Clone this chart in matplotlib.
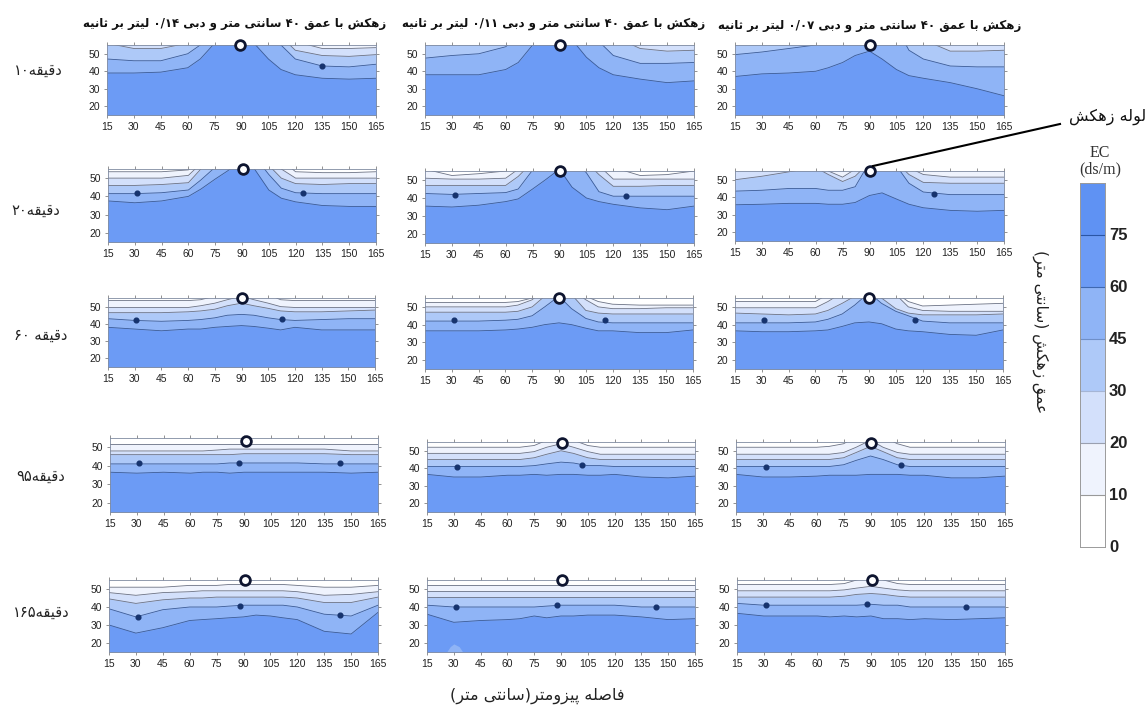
import re
import matplotlib
matplotlib.use("Agg")
import matplotlib.pyplot as plt
from matplotlib.lines import Line2D

W, H = 1148, 707

# distance along the section, shared by all contour lines
X = [15, 30, 45, 60, 67, 75, 82, 90, 97, 105, 112, 120, 135, 150, 165]
XTICKS = [15, 30, 45, 60, 75, 90, 105, 120, 135, 150, 165]
YTICKS = [20, 30, 40, 50]

# contour depths, lowest contour first. values over 55 run off the top of the panel
q14_t10 = [
    [39, 39, 39.5, 42, 47, 56, 62, 68, 56, 47, 41, 38, 36, 35.5, 36],
    [47, 46, 46, 50, 55, 62, 66, 68, 66, 62, 55, 47, 43, 42.5, 44],
    [56, 53, 53, 56, 60, 66, 68, 68, 68, 66, 60, 52, 49, 48.5, 49.5],
    [60, 60, 60, 60, 62, 68, 68, 68, 68, 68, 64, 57, 53, 53, 53.5],
]
q14_t30 = [
    [37.5, 36.5, 37.5, 40, 44, 49.5, 54, 60, 55, 43.5, 39, 37, 35, 34.5, 34.5],
    [41.5, 41.5, 42, 43.5, 49, 56, 62, 68, 62, 52, 44.5, 42, 41.5, 41.5, 41.5],
    [46, 46, 46.5, 47.5, 55, 62, 65, 65, 65, 57, 50, 47, 46.5, 47, 47],
    [50, 50, 50, 51.5, 58, 64, 66, 66, 66, 62, 55, 50, 50, 50, 50],
    [53.5, 53.5, 53.5, 54.5, 60, 66, 68, 68, 68, 66, 60, 53.5, 53, 53, 53.5],
]
q14_t60 = [
    [38, 37, 36, 37, 37, 38, 38.5, 39, 38.5, 37.5, 36.5, 38, 36.5, 36.5, 36.5],
    [43, 42, 41.5, 42, 42.5, 43.5, 45, 45.5, 45, 43.5, 42.5, 42, 42.5, 43, 43],
    [46.5, 46.5, 46.5, 47, 47.5, 48.5, 50.5, 52, 50.5, 49, 47.5, 47, 47, 47.5, 48],
    [49.5, 49.5, 49.5, 49.5, 50.5, 52, 54, 56, 54, 52, 50, 49.5, 49.5, 49.5, 49.5],
    [53.5, 53.5, 53.5, 53.5, 54, 56, 60, 62, 60, 57, 54, 53.5, 53.5, 53.5, 53.5],
]
q14_t95 = [
    [36.5, 36, 36.5, 36, 36.5, 36.5, 36, 36.5, 36.5, 36.5, 36.5, 36.5, 36.5, 36, 36.5],
    [41, 41, 41, 41, 41, 41, 41.5, 41.5, 41.5, 41.5, 41.5, 41.5, 41, 41, 41],
    [46, 46, 46, 46, 46, 46, 46, 46.5, 46.5, 46.5, 46.5, 46.5, 46.5, 46, 46],
    [48, 48, 48, 48, 48, 48.5, 49, 49, 49, 49, 49, 49, 49, 48, 48],
    [51.5, 51.5, 51.5, 51.5, 51.5, 51.5, 51.5, 51.5, 51.5, 51.5, 51.5, 51.5, 51.5, 51.5, 51.5],
]
q14_t165 = [
    [30, 25.5, 28.5, 32.5, 33, 33.5, 34, 34.5, 35.5, 35, 34, 33, 26.5, 25, 37],
    [39, 34.5, 38.5, 40, 40, 40, 40.5, 41, 41, 41, 41, 40, 36, 35, 41],
    [44.5, 42, 44, 45, 45, 45.5, 45.5, 45.5, 45.5, 45.5, 45.5, 45, 42.5, 42.5, 45.5],
    [48, 46.5, 48, 48.5, 49, 49, 49, 49, 49, 49, 49, 48.5, 46.5, 47, 48.5],
    [51, 51, 51, 52, 52, 52, 52.5, 52.5, 52.5, 52.5, 52.5, 52, 51, 51, 52],
]

q11_t10 = [
    [38, 38, 38, 41, 45, 55, 62, 68, 58, 48, 42, 38, 35.5, 33.5, 34.5],
    [47.5, 49, 50, 54, 60, 66, 68, 68, 68, 66, 57, 49, 44.5, 44.5, 45],
    [60, 60, 60, 60, 62, 68, 68, 68, 68, 68, 66, 60, 53, 51.5, 52],
]
q11_t30 = [
    [35.5, 35, 36, 38, 39.5, 45, 50, 56, 46, 40, 38, 36.5, 34.5, 33.5, 35.5],
    [42.5, 42, 42.5, 43, 45, 55.5, 62, 68, 62, 54, 43.5, 41, 41, 41, 41],
    [47, 47, 47, 47, 52, 60, 64, 66, 64, 60, 53, 46.5, 46.5, 47, 47],
    [51, 50.5, 50.5, 51, 56, 62, 66, 68, 66, 64, 58, 50.5, 50.5, 50.5, 50.5],
    [56, 52.5, 53.5, 55, 60, 66, 68, 68, 68, 66, 62, 57, 52.5, 53, 55],
]
q11_t60 = [
    [36.5, 36.5, 36.5, 37, 37.5, 38.5, 40, 41, 40, 38, 36.5, 36.5, 35.5, 35.5, 37],
    [42, 42, 42, 42.5, 43, 45, 50, 56, 49, 43.5, 41.5, 41, 41, 41, 41],
    [47, 47, 47, 47, 47.5, 50, 56, 62, 57, 48, 46.5, 46, 46, 46, 46],
    [50, 50, 50, 50, 51, 54, 60, 65, 60, 54, 50, 49, 49, 49.5, 49.5],
    [52.5, 52.5, 52.5, 52.5, 53, 55, 62, 66, 62, 56, 53, 51.5, 51, 51, 51],
]
q11_t95 = [
    [36.5, 35, 35, 36, 36, 36.5, 36, 36.5, 36.5, 36, 36, 36.5, 35, 34.5, 35.5],
    [41, 41, 41, 41, 41, 41.5, 42.5, 43.5, 43, 41.5, 41.5, 41, 41, 41, 41],
    [45, 45, 45, 45, 45, 46, 48, 50, 48.5, 46, 45, 45, 45, 45, 45],
    [48.5, 48.5, 48.5, 48.5, 48.5, 49.5, 52, 54, 52, 49.5, 48, 48, 48, 48, 48],
    [52, 52, 52, 52, 52, 53, 56, 58, 56, 53, 52, 52, 52, 52, 52],
]
q11_t165 = [
    [36, 31.5, 32.5, 33, 33.5, 35, 34, 35, 35, 35.5, 35.5, 35.5, 34.5, 33, 33.5],
    [41, 40, 40, 40, 40, 40, 40.5, 41, 41, 41, 41, 41, 40, 40, 40],
    [45.5, 45.5, 45.5, 45.5, 45.5, 45.5, 45.5, 45.5, 45.5, 45.5, 45.5, 45.5, 45.5, 45.5, 45.5],
    [49, 49, 49, 49, 49, 49, 49, 49, 49, 49, 49, 49, 49, 49, 49],
    [52, 52, 52, 52, 52, 52, 52, 52, 52, 52, 52, 52, 52, 52, 52],
]

q07_t10 = [
    [37, 38.5, 39, 40, 42, 45, 49, 51.5, 47, 41, 37.5, 36, 33.5, 30, 26],
    [49.5, 51, 53, 55, 60, 65, 65, 65, 65, 65, 52, 47, 43, 42.5, 42.5],
    [60, 60, 60, 60, 60, 66, 66, 66, 66, 66, 62, 58, 51.5, 51.5, 52],
]
q07_t30 = [
    [35.7, 36, 36.5, 36.5, 36, 36, 37, 41, 42.5, 39, 36, 34, 32.5, 32, 32.5],
    [43.5, 44, 45, 45, 44, 44, 46, 60, 62, 58, 48, 43, 41.5, 41.5, 41.5],
    [50, 52, 54.5, 57, 53, 49, 52, 60, 62, 60, 53, 48.5, 48, 48, 48],
    [60, 60, 60, 60, 55, 51.5, 56, 62, 62, 62, 57, 53, 51.5, 51.5, 51.5],
]
q07_t60 = [
    [36.5, 36, 36, 36.5, 37, 39, 41, 41.5, 40.5, 37.5, 36.5, 36, 34.5, 34, 37],
    [41, 41, 41, 41.5, 43, 46, 51, 58, 52, 47.5, 45, 42, 41, 41, 41],
    [46.5, 46, 45.5, 46, 48, 52, 56, 62, 55, 49, 46.5, 45.5, 45.5, 45.5, 46],
    [49.5, 49.5, 49.5, 49.5, 53, 58, 64, 66, 64, 57, 50, 48, 47.5, 47.5, 47.5],
    [53, 53, 53, 53, 57, 62, 68, 68, 66, 58, 53, 50.5, 51, 51.5, 52],
]
q07_t95 = [
    [36.5, 35, 35, 35.5, 36, 36, 36, 36.5, 36.5, 36.5, 36, 36, 34.5, 34.5, 35.5],
    [41, 41, 41, 41, 41, 42, 44.5, 47, 45, 42, 41, 41, 41, 41, 41],
    [45, 45, 45, 45, 45, 46, 49, 52.5, 49.5, 46, 45, 45, 45, 45, 45],
    [48, 48, 48, 48, 48, 49, 52, 56, 52, 49, 48, 48, 48, 48, 48],
    [52, 52, 52, 52, 52.5, 54, 58, 62, 58, 54, 52, 52, 52, 52, 52],
]
q07_t165 = [
    [36.5, 35, 35, 35, 34.5, 35, 34.5, 35, 33.5, 33.5, 33, 33.5, 33, 33.5, 34],
    [42, 41, 41, 41, 41, 41, 41, 41.5, 41, 41, 40, 40, 40, 40, 40],
    [45.5, 45.5, 45.5, 45.5, 45.5, 46, 47, 47.5, 47, 46, 45.5, 45.5, 45.5, 45.5, 45.5],
    [49, 49, 49, 49, 49, 49.5, 50.5, 51.5, 50.5, 49.5, 49, 49, 49, 49, 49],
    [52.5, 52.5, 52.5, 52.5, 52.5, 53, 55, 57, 55, 53, 52.5, 52.5, 52.5, 52.5, 52.5],
]

panels = [
    [q14_t10, q14_t30, q14_t60, q14_t95, q14_t165],
    [q11_t10, q11_t30, q11_t60, q11_t95, q11_t165],
    [q07_t10, q07_t30, q07_t60, q07_t95, q07_t165],
]

# piezometer spots (x, depth) and drain pipe x of each panel
spots = [
    [[(135, 43)], [(31, 42), (124, 42)], [(31, 42), (113, 43)],
     [(31, 41.5), (87, 41.5), (144, 41.5)], [(31, 34.5), (88, 40.5), (144, 35.5)]],
    [[], [(32, 41.5), (127, 41)], [(31, 42.5), (116, 42.5)],
     [(32, 41), (102, 42)], [(31, 40), (88, 41), (143, 40)]],
    [[], [(126, 42)], [(31, 42.5), (116, 42.5)],
     [(32, 41), (107, 42)], [(31, 41), (88, 41.5), (143, 40)]],
]
pipe_x = [
    [89, 90.5, 90, 91, 91],
    [90, 90.5, 90, 90.5, 90.5],
    [90, 90.5, 90, 90.5, 90.5],
]
pipe_y = [
    [55, 55, 55, 53.5, 55],
    [55, 55, 55, 54.5, 55],
    [55, 55, 55, 54.5, 55],
]

# pale blob near the floor of the 165 min, 0.11 panel
blob_x = [26, 28, 30, 33, 35]
blob_y = [15, 18, 19.5, 18, 15]

col_titles = [
    "زهکش با عمق ۴۰ سانتی متر و دبی ۰/۱۴ لیتر بر ثانیه",
    "زهکش با عمق ۴۰ سانتی متر و دبی ۰/۱۱ لیتر بر ثانیه",
    "زهکش با عمق ۴۰ سانتی متر و دبی ۰/۰۷ لیتر بر ثانیه",
]
row_titles = ["دقیقه۱۰", "دقیقه۲۰", "دقیقه ۶۰", "دقیقه۹۵", "دقیقه۱۶۵"]

cbar_labels = ["0", "10", "20", "30", "45", "60", "75"]
# bands from the deepest (panel floor) upward
bands = ["#6c9bf5", "#8fb4f6", "#aec9f8", "#d3e0fb", "#eff3fd", "#ffffff"]
cbar_colors = ["#ffffff", "#eff3fd", "#d3e0fb", "#aec9f8", "#8fb4f6", "#6c9bf5", "#5f92f3"]
cbar_lines = ["#999999", "#9aa0b0", "#a5b5d5", "#6f8fc8", "#3f68b0", "#2a55a5"]

# pixel boxes of the panels: left, right, top, bottom
boxes = [
    [(107, 376, 45, 115), (108, 376, 169, 242), (108, 375, 298, 367), (110, 378, 438, 512), (109, 378, 580, 652)],
    [(425, 694, 45, 115), (425, 694, 171, 243), (425, 693, 298, 369), (427, 695, 442, 512), (427, 695, 580, 652)],
    [(735, 1004, 45, 115), (735, 1004, 171, 241), (735, 1003, 298, 369), (736, 1005, 442, 512), (737, 1005, 580, 652)],
]

# matplotlib does no arabic shaping, so pick the presentation forms by hand
FORMS = {"ا": 0xFE8D, "ب": 0xFE8F, "پ": 0xFB56, "ت": 0xFE95, "ث": 0xFE99, "د": 0xFEA9,
         "ر": 0xFEAD, "ز": 0xFEAF, "س": 0xFEB1, "ش": 0xFEB5, "ص": 0xFEB9, "ع": 0xFEC9,
         "ف": 0xFED1, "ق": 0xFED5, "ک": 0xFB8E, "ل": 0xFEDD, "م": 0xFEE1, "ن": 0xFEE5,
         "ه": 0xFEE9, "و": 0xFEED, "ی": 0xFBFC}
NO_LEFT = "ادرزو"


def fa(s):
    out = []
    for i, c in enumerate(s):
        if c not in FORMS:
            out.append({"(": ")", ")": "("}.get(c, c))
            continue
        before = i > 0 and s[i - 1] in FORMS and s[i - 1] not in NO_LEFT
        after = i + 1 < len(s) and s[i + 1] in FORMS and c not in NO_LEFT
        if before and after:
            k = 3
        elif after:
            k = 2
        elif before:
            k = 1
        else:
            k = 0
        out.append(chr(FORMS[c] + k))
    vis = "".join(out)[::-1]
    return re.sub(r"[۰-۹/]+", lambda m: m.group()[::-1], vis)


def px(x, y):
    return x / W, 1 - y / H


fig = plt.figure(figsize=(W / 100, H / 100), dpi=100)
plt.rcParams["font.family"] = ["Liberation Sans", "DejaVu Sans"]

for c in range(3):
    for r in range(5):
        left, right, top, bottom = boxes[c][r]
        ax = fig.add_axes([left / W, 1 - bottom / H, (right - left) / W, (bottom - top) / H])
        curves = panels[c][r]
        ax.set_facecolor(bands[len(curves)])
        for i in range(len(curves) - 1, -1, -1):
            ax.fill_between(X, 15, curves[i], color=bands[i], lw=0)
            ax.plot(X, curves[i], color="#3a5a96" if i < 2 else "#6a7184", lw=0.6)
        if c == 1 and r == 4:
            ax.fill_between(blob_x, 15, blob_y, color=bands[1], lw=0)
        for sx, sy in spots[c][r]:
            ax.plot(sx, sy, "o", color="#16336e", ms=3.4)
        ax.plot(pipe_x[c][r], pipe_y[c][r], "o", mfc="white", mec="#0e1530", mew=2, ms=7, clip_on=False, zorder=6)
        ax.set_xlim(15, 165)
        ax.set_ylim(15, 55)
        ax.set_xticks(XTICKS)
        ax.set_yticks(YTICKS)
        ax.tick_params(top=True, right=True, length=2.5, width=0.5, color="#666666",
                       labelsize=7.5, labelcolor="#222222", pad=2.5)
        for s in ax.spines.values():
            s.set_linewidth(0.6)
            s.set_color("#7f8aa0")

cax = fig.add_axes([1080 / W, 1 - 547 / H, 25 / W, 364 / H])
cax.bar([0] * 7, [1] * 7, bottom=list(range(7)), width=1, color=cbar_colors, lw=0)
for i, col in enumerate(cbar_lines):
    cax.axhline(i + 1, color=col, lw=0.8)
cax.set_xlim(-0.5, 0.5)
cax.set_ylim(0, 7)
cax.set_xticks([])
cax.set_yticks([])
for s in cax.spines.values():
    s.set_linewidth(0.7)
    s.set_color("#9a9a9a")
for i, lab in enumerate(cbar_labels):
    x, y = px(1109, 547 - i * 52)
    fig.text(x, y, lab, fontsize=12, fontweight="bold", color="#222222", ha="left", va="center")

x, y = px(1100, 161)
fig.text(x, y, "EC\n(ds/m)", family="Liberation Serif", fontsize=11.5, color="#333333", ha="center", va="center", linespacing=1.05)

persian = ["DejaVu Sans"]
for t, cx, cy in zip(col_titles, [235, 554, 870], [23, 24, 25]):
    x, y = px(cx, cy)
    fig.text(x, y, fa(t), family=persian, fontsize=8.5, fontweight="bold", color="#111111", ha="center", va="center")
for t, cx, cy in zip(row_titles, [38, 36, 41, 41, 41], [70, 210, 335, 476, 612]):
    x, y = px(cx, cy)
    fig.text(x, y, fa(t), family=persian, fontsize=10.5, color="#222222", ha="center", va="center")

x, y = px(537, 696)
fig.text(x, y, fa("فاصله پیزومتر(سانتی متر)"), family=persian, fontsize=11.5, color="#222222", ha="center", va="center")
x, y = px(1040, 332)
fig.text(x, y, fa("عمق زهکش (سانتی متر)"), family=persian, fontsize=11.2, color="#222222", ha="center", va="center", rotation=-90)
x, y = px(1108, 117)
fig.text(x, y, fa("لوله زهکش"), family=persian, fontsize=11.5, color="#111111", ha="center", va="center")

x0, y0 = px(1060, 124)
x1, y1 = px(873, 166)
fig.add_artist(Line2D([x0, x1], [y0, y1], color="black", lw=1.5, transform=fig.transFigure))

fig.savefig("out.png", dpi=100)
